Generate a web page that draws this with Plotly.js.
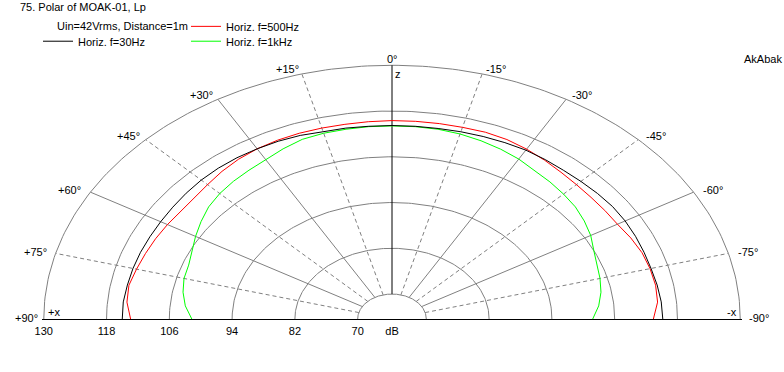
<!DOCTYPE html>
<html>
<head>
<meta charset="utf-8">
<script src="https://cdn.plot.ly/plotly-3.0.1.min.js"></script>
<style>
html,body{margin:0;padding:0;background:#fff;}
#chart{width:784px;height:372px;}
</style>
</head>
<body>
<div id="chart"></div>
<script>
// ---------------- data ----------------
// angle in degrees: positive = towards +x (left), 0 = z axis (top)
const angles = [90,85,80,75,70,65,60,55,50,45,40,35,30,25,20,15,10,5,0,
                -5,-10,-15,-20,-25,-30,-35,-40,-45,-50,-55,-60,-65,-70,-75,-80,-85,-90];
// sound pressure level, dB
const lp30Hz  = [115.0,115.0,114.8,114.7,114.6,114.5,114.5,114.6,114.8,115.0,115.1,115.1,115.0,114.9,114.7,114.4,114.3,114.2,114.2,
                 114.2,114.2,114.3,114.4,114.5,114.6,114.5,114.4,114.5,114.7,114.9,114.9,114.8,114.7,114.7,114.9,115.1,115.2];
const lp500Hz = [113.4,114.3,114.5,114.0,113.6,113.3,113.0,112.7,112.9,113.3,114.0,114.6,115.0,115.2,115.3,115.3,115.3,115.4,115.5,
                 115.5,115.5,115.5,115.6,115.4,114.9,114.3,113.7,113.3,113.1,113.1,113.2,113.8,114.3,114.5,114.6,114.4,113.4];
const lp1kHz  = [101.7,103.1,104.0,104.6,104.8,105.6,106.8,108.0,109.2,110.0,110.6,111.1,111.7,112.7,113.6,113.9,114.0,114.1,114.1,
                 114.1,114.0,113.7,113.2,112.6,111.9,110.9,110.4,109.8,109.2,108.3,107.3,106.0,105.1,104.6,104.0,103.1,101.8];
const seriesNames = ['Horiz. f=30Hz','Horiz. f=500Hz','Horiz. f=1kHz'];

// radial axis (dB rings) and angular ticks
const ringLevels = [130,118,106,94,82,70];
const ringLabels = ['130','118','106','94','82','70'];
const centerLabel = 'dB';
const angleTicks = [90,75,60,45,30,15,0,-15,-30,-45,-60,-75,-90];
const angleTickLabels = ['+90°','+75°','+60°','+45°','+30°','+15°','0°','-15°','-30°','-45°','-60°','-75°','-90°'];

const titleText = '75. Polar of MOAK-01, Lp';
const subtitleText = 'Uin=42Vrms, Distance=1m';
const sideText = 'AkAbak';

// ---------------- polar -> plane projection ----------------
const POLE = 63.44;           // dB value at the centre of the diagram
const RMAX = 130, RMIN = 70;
const D = Math.PI/180;
function X(db, th){ return -(db-POLE)*Math.sin(th*D); }
function Y(db, th){ return  (db-POLE)*Math.cos(th*D); }

const FONT = 'Liberation Sans, Arial, sans-serif';
const GRID = '#808080';
const traces = [];

// rings
const fine = [];
for (let a = -90; a <= 90; a += 1) fine.push(a);
ringLevels.forEach(lv => {
  traces.push({type:'scatter', mode:'lines', x: fine.map(a=>X(lv,a)), y: fine.map(a=>Y(lv,a)),
    line:{color:GRID, width:1}, hoverinfo:'skip', showlegend:false});
});
// spokes
angleTicks.forEach(a => {
  if (Math.abs(a) === 90) return;
  const solid = (a % 30 === 0);
  traces.push({type:'scatter', mode:'lines', x:[X(RMIN,a),X(RMAX,a)], y:[Y(RMIN,a),Y(RMAX,a)],
    line:{color: a===0 ? '#000000' : GRID, width:1, dash: solid ? 'solid' : '4px,3px'},
    hoverinfo:'skip', showlegend:false});
});

// curves
function curve(vals, name, color, lg){
  return {type:'scatter', mode:'lines', name:name,
    x: angles.map((a,i)=>X(vals[i],a)), y: angles.map((a,i)=>Y(vals[i],a)),
    line:{color:color, width:1}, legend: lg, showlegend:true};
}
traces.push(curve(lp1kHz,  seriesNames[2], '#00ff00', 'legend3'));
traces.push(curve(lp500Hz, seriesNames[1], '#ff0000', 'legend'));
traces.push(curve(lp30Hz,  seriesNames[0], '#000000', 'legend2'));

// angular labels
const YSH = {0:6.7, 15:5.2, 30:4.7, 45:3.6, 60:1.7, 75:1, 90:1.5};
const GAPL = {15:2, 30:3.5, 45:4.6, 60:8.5, 75:7.6, 90:5};
const GAPR = {15:3, 30:4.5, 45:6.6, 60:8.5, 75:8.6, 90:8};
const annotations = angleTicks.map((a,i) => {
  const k = Math.abs(a);
  return {x: X(RMAX,a), y: Y(RMAX,a), xref:'x', yref:'y', text: angleTickLabels[i], showarrow:false,
    xanchor: a>0 ? 'right' : (a<0 ? 'left' : 'center'),
    yanchor:'middle', borderpad:0,
    xshift: a>0 ? -GAPL[k] : (a<0 ? GAPR[k] : 0.5), yshift: YSH[k],
    font:{family:FONT, size:11, color:'#000'}};
});
annotations.push({x: X(RMAX,0), y: Y(RMAX,0), xref:'x', yref:'y', text:'z', showarrow:false,
  xanchor:'left', yanchor:'top', borderpad:0, xshift:2, yshift:-2, font:{family:FONT,size:11,color:'#000'}});
annotations.push({x: X(RMAX,90), y: 0, xref:'x', yref:'y', text:'+x', showarrow:false,
  xanchor:'left', yanchor:'bottom', borderpad:0, xshift:3, yshift:0, font:{family:FONT,size:11,color:'#000'}});
annotations.push({x: X(RMAX,-90), y: 0, xref:'x', yref:'y', text:'-x', showarrow:false,
  xanchor:'right', yanchor:'bottom', borderpad:0, xshift:-2, yshift:0, font:{family:FONT,size:11,color:'#000'}});
annotations.push({x: 0.02, y: 1.147, xref:'paper', yref:'paper', text: subtitleText, showarrow:false,
  xanchor:'left', yanchor:'middle', borderpad:0, font:{family:FONT,size:11,color:'#000'}});
annotations.push({x: 1.0586, y: 1.019, xref:'paper', yref:'paper', text: sideText, showarrow:false,
  xanchor:'right', yanchor:'middle', borderpad:0, font:{family:FONT,size:11,color:'#000'}});

const RX = 66.9;
const tickv = ringLevels.map(lv => X(lv,90)).concat([0]);
const tickt = ringLabels.concat([centerLabel]);

const legendBase = {xanchor:'left', yanchor:'middle', bgcolor:'rgba(0,0,0,0)', borderwidth:0,
  font:{family:FONT, size:11, color:'#000'}, itemwidth:30, orientation:'v'};

const layout = {
  width:784, height:372,
  margin:{l:42, r:42, t:62, b:52, pad:0},
  paper_bgcolor:'#ffffff', plot_bgcolor:'#ffffff',
  title:{text:titleText, x:20/784, xanchor:'left', y:1-7.5/372, yanchor:'middle',
         font:{family:FONT, size:11, color:'#000'}},
  xaxis:{range:[-RX,RX], showgrid:false, zeroline:false, showline:false, ticks:'',
         tickmode:'array', tickvals:tickv, ticktext:tickt, tickfont:{family:FONT,size:11,color:'#000'},
         ticklabelstandoff:3, fixedrange:true},
  yaxis:{range:[-0.25,RX], showgrid:false, zeroline:true, zerolinecolor:'#000000', zerolinewidth:1,
         showline:false, showticklabels:false, ticks:'', fixedrange:true},
  legend: Object.assign({}, legendBase, {x:0.2057, y:1.147}),
  legend2: Object.assign({}, legendBase, {x:-0.0057, y:1.089}),
  legend3: Object.assign({}, legendBase, {x:0.2057, y:1.089}),
  annotations: annotations,
  showlegend:true
};

Plotly.newPlot('chart', traces, layout, {displayModeBar:false, staticPlot:true});
</script>
</body>
</html>
